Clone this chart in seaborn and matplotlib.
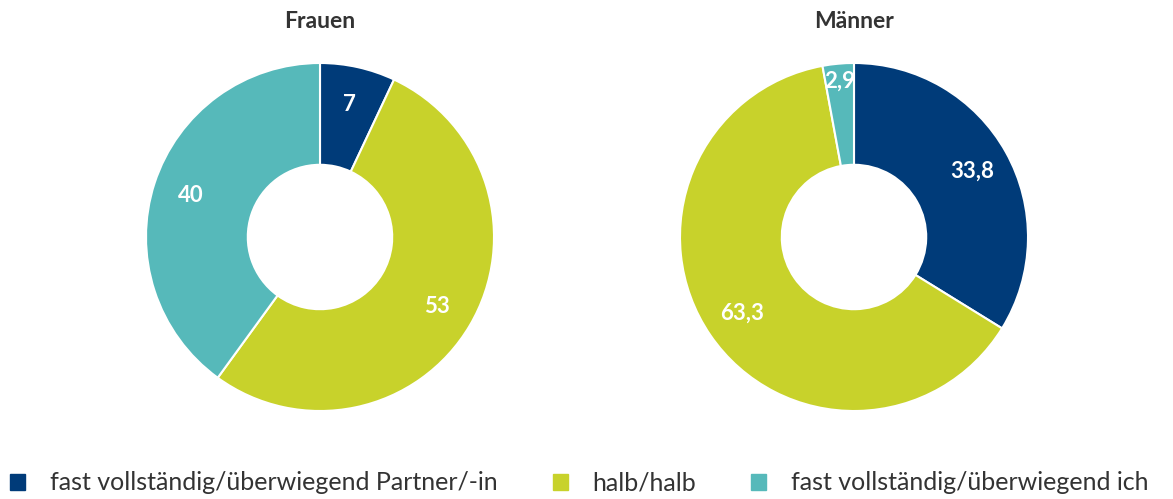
import numpy as np
import seaborn as sns
import matplotlib.pyplot as plt
from matplotlib.patches import Patch

# Daten
kategorien = ["fast vollständig/überwiegend Partner/-in", "halb/halb", "fast vollständig/überwiegend ich"]
frauen = [7, 53, 40]
maenner = [33.8, 63.3, 2.9]
frauen_labels = ["7", "53", "40"]
maenner_labels = ["33,8", "63,3", "2,9"]
farben = ["#003b79", "#c8d22b", "#56b9ba"]

sns.set_theme(style="white")
plt.rcParams["font.family"] = ["Lato", "DejaVu Sans"]

fig = plt.figure(figsize=(11.73, 4.99), dpi=100)

def donut(ax, werte, labels, titel):
    ax.pie(werte, colors=farben, startangle=90, counterclock=False,
           radius=1, wedgeprops=dict(width=0.585, edgecolor="white", linewidth=1.5))
    total = sum(werte)
    start = 90
    for w, lab in zip(werte, labels):
        mitte = start - w / total * 360 / 2
        r = 0.9 if w < 5 else 0.78
        x = r * np.cos(np.radians(mitte))
        y = r * np.sin(np.radians(mitte))
        ax.text(x, y, lab, ha="center", va="center", color="white", fontsize=16, fontweight="bold")
        start -= w / total * 360
    ax.set_xlim(-1, 1)
    ax.set_ylim(-1, 1)
    ax.set_aspect("equal")
    ax.text(0.5, 1 + 41 / 348, titel, transform=ax.transAxes, ha="center", va="center",
            fontsize=16.5, fontweight="bold", color="#333333")

w = 348 / 1173
h = 348 / 499
ax1 = fig.add_axes([320 / 1173 - w / 2, 1 - 237 / 499 - h / 2, w, h])
ax2 = fig.add_axes([854 / 1173 - w / 2, 1 - 237 / 499 - h / 2, w, h])
donut(ax1, frauen, frauen_labels, "Frauen")
donut(ax2, maenner, maenner_labels, "Männer")

handles = [Patch(facecolor=c, edgecolor=c) for c in farben]
fig.legend(handles, kategorien, loc="center left", bbox_to_anchor=(0.0, 1 - 483 / 499), ncol=3,
           frameon=False, fontsize=18, handlelength=0.6, handleheight=0.6,
           handletextpad=1.0, columnspacing=2.2, labelcolor="#333333",
           borderpad=0, borderaxespad=0.4)

fig.savefig("out.png", dpi=100)
